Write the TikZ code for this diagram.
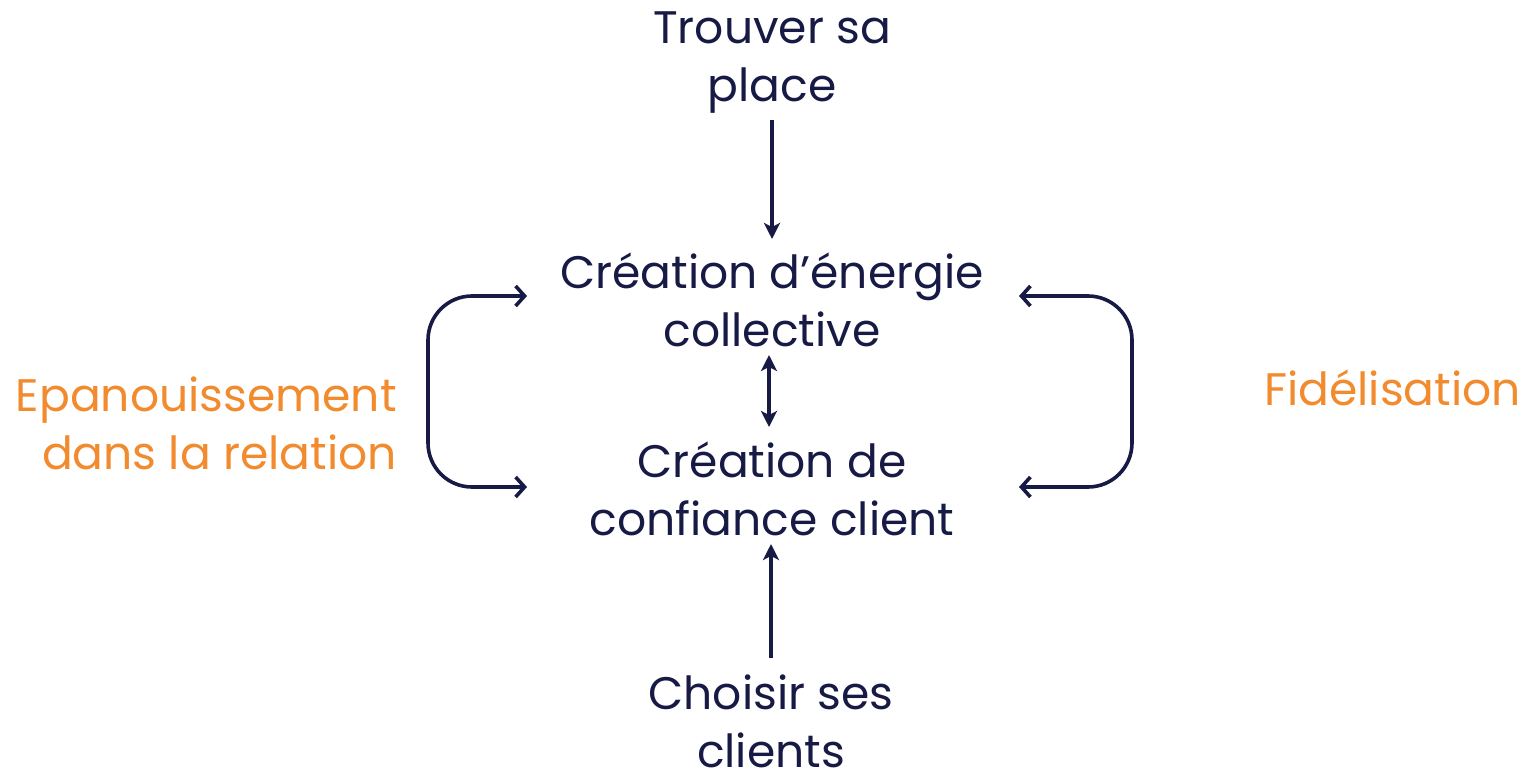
\documentclass[tikz,border=0pt]{standalone}
\usepackage{fontspec}
\setmainfont{Poppins}
\usetikzlibrary{arrows.meta}
\definecolor{navy}{HTML}{171A45}
\definecolor{orng}{HTML}{F28A2E}
\begin{document}
\begin{tikzpicture}[x=0.5pt,y=-0.5pt,
  txt/.style={inner sep=0pt, align=center, text=navy, font=\fontsize{22.8pt}{29pt}\selectfont},
  side/.style={inner sep=0pt, text=orng, font=\fontsize{22.8pt}{29pt}\selectfont},
  conn/.style={draw=navy, line width=1.8pt},
  vtip/.style={-{Stealth[length=8pt,width=8pt,inset=2pt]}},
  dtip/.style={{Stealth[length=8pt,width=8pt,inset=2pt]}-{Stealth[length=8pt,width=8pt,inset=2pt]}},
  btip/.style={{Straight Barb[length=4.5pt,width=10pt]}-{Straight Barb[length=4.5pt,width=10pt]}}
]
\useasboundingbox (0,0) rectangle (1525,775);
\node[txt] (place) at (772,63) {Trouver sa\\place};
\node[txt] (energie) at (772,300) {Création d’énergie\\collective};
\node[txt] (confiance) at (772,489) {Création de\\confiance client};
\node[txt] (clients) at (771,721) {Choisir ses\\clients};
\node[side, align=right, anchor=east] (epan) at (397,423) {Epanouissement\\dans la relation};
\node[side, anchor=west] (fide) at (1264,388) {Fidélisation};

\coordinate (lt) at (527,296);
\coordinate (lb) at (527,487);
\coordinate (rt) at (1019,296);
\coordinate (rb) at (1019,487);

\draw[conn, vtip] (place.south |- 0,120) -- (place.south |- 0,239);
\draw[conn, dtip] (769,355) -- (769,427);
\draw[conn, vtip] (clients.north |- 0,658) -- (clients.north |- 0,544);
\draw[conn, btip, rounded corners=22pt] (lt) -- (428,296) -- (428,487) -- (lb);
\draw[conn, btip, rounded corners=22pt] (rt) -- (1132,296) -- (1132,487) -- (rb);
\end{tikzpicture}
\end{document}
